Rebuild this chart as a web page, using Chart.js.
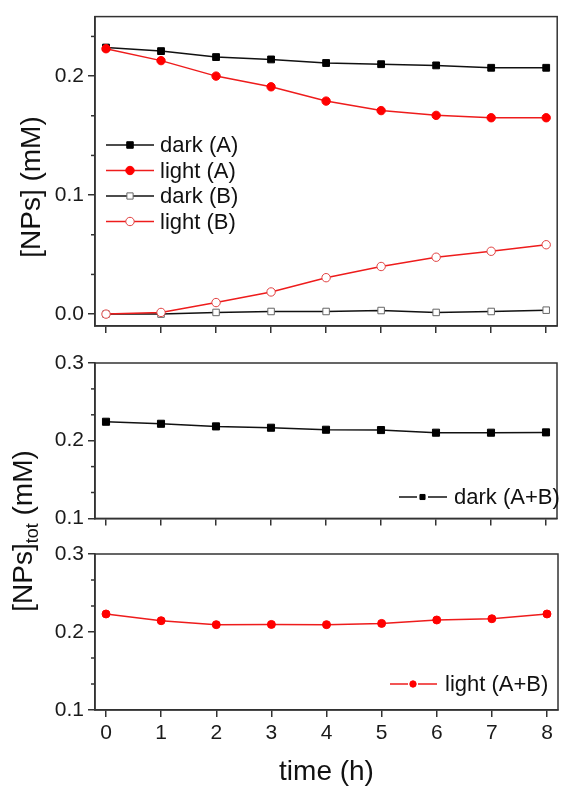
<!DOCTYPE html>
<html>
<head>
<meta charset="utf-8">
<script src="https://cdn.jsdelivr.net/npm/chart.js@4/dist/chart.umd.min.js"></script>
<style>
  html, body { margin: 0; background: #fff; }
  #wrap { position: relative; width: 563px; height: 786px; font-family: "Liberation Sans", Arial, sans-serif; }
  canvas { position: absolute; left: 0; }
  .ytitle { position: absolute; white-space: nowrap; font-size: 28px; line-height: 1; color: #111;
            transform: translate(-50%, -50%) rotate(-90deg); }
  .ytitle sub { font-size: 18px; line-height: 0; vertical-align: -0.35em; }
</style>
</head>
<body>
<div id="wrap">
  <canvas id="top" width="563" height="345" style="top:0"></canvas>
  <canvas id="mid" width="563" height="190" style="top:345px"></canvas>
  <canvas id="bot" width="563" height="251" style="top:535px"></canvas>
  <div class="ytitle" style="left:31px;top:187px">[NPs] (mM)</div>
  <div class="ytitle" style="left:23px;top:531px">[NPs]<sub>tot</sub> (mM)</div>
</div>
<script>
const FONT = '"Liberation Sans", Arial, sans-serif';

// time (h)
const hours = [0, 1, 2, 3, 4, 5, 6, 7, 8];
const xTicks = ['0', '1', '2', '3', '4', '5', '6', '7', '8'];

// top panel, [NPs] (mM)
const darkA  = [0.224, 0.221, 0.216, 0.214, 0.211, 0.210, 0.209, 0.207, 0.207];
const lightA = [0.223, 0.213, 0.200, 0.191, 0.179, 0.171, 0.167, 0.165, 0.165];
const darkB  = [0.000, 0.000, 0.0014, 0.0022, 0.0022, 0.003, 0.0014, 0.0022, 0.0033];
const lightB = [0.000, 0.0014, 0.0097, 0.0186, 0.0306, 0.040, 0.0478, 0.0528, 0.0583];

// lower panels, [NPs]tot (mM)
const darkTot  = [0.2244, 0.2218, 0.2184, 0.2167, 0.2141, 0.2137, 0.2103, 0.2103, 0.2107];
const lightTot = [0.2231, 0.2145, 0.2094, 0.2097, 0.2094, 0.2110, 0.2154, 0.2170, 0.2231];

const BLACK = '#111';
const RED = '#ee1c1c';

function points(values) {
  return values.map((v, i) => ({ x: hours[i], y: v }));
}

// where the small in-plot legends sit, per canvas
const legendLayout = {
  top: { font: 22, items: [
    { ds: 0, y: 145,   segs: [[106, 154]], mx: 130, r: 4.6, tx: 160 },
    { ds: 1, y: 170.5, segs: [[106, 154]], mx: 130, r: 4.2, tx: 160 },
    { ds: 2, y: 196,   segs: [[106, 154]], mx: 130, r: 4.4, tx: 160 },
    { ds: 3, y: 221.5, segs: [[106, 154]], mx: 130, r: 4.2, tx: 160 }
  ]},
  mid: { font: 22, items: [
    { ds: 0, y: 152, segs: [[399, 417], [428, 447]], mx: 422.5, r: 3.6, tx: 454 }
  ]},
  bot: { font: 22, items: [
    { ds: 0, y: 149, segs: [[390, 408], [418, 437]], mx: 413, r: 3.2, tx: 445 }
  ]}
};

function drawMarker(ctx, style, x, y, r, fill, stroke, lw) {
  ctx.beginPath();
  if (style === 'rect') {
    const s = r * Math.SQRT1_2;
    ctx.rect(x - s, y - s, 2 * s, 2 * s);
  } else {
    ctx.arc(x, y, r, 0, Math.PI * 2);
  }
  ctx.fillStyle = fill;
  ctx.fill();
  ctx.lineWidth = lw;
  ctx.strokeStyle = stroke;
  ctx.stroke();
}

const panelLegend = {
  id: 'panelLegend',
  afterDraw(chart) {
    const lay = legendLayout[chart.canvas.id];
    if (!lay) return;
    const ctx = chart.ctx;
    ctx.save();
    lay.items.forEach(it => {
      const ds = chart.data.datasets[it.ds];
      ctx.strokeStyle = ds.borderColor;
      ctx.lineWidth = 1.5;
      it.segs.forEach(s => {
        ctx.beginPath();
        ctx.moveTo(s[0], it.y);
        ctx.lineTo(s[1], it.y);
        ctx.stroke();
      });
      drawMarker(ctx, ds.pointStyle, it.mx, it.y, it.r,
        ds.pointBackgroundColor, ds.pointBorderColor, ds.pointBorderWidth || 1);
      ctx.fillStyle = '#111';
      ctx.font = lay.font + 'px ' + FONT;
      ctx.textBaseline = 'middle';
      ctx.fillText(ds.label, it.tx, it.y + 1);
    });
    ctx.restore();
  }
};

// box round the plot area plus minor ticks on y
const frame = {
  id: 'frame',
  afterDraw(chart) {
    const { ctx, chartArea: a } = chart;
    const y = chart.scales.y;
    ctx.save();
    ctx.strokeStyle = '#333';
    ctx.lineWidth = 1.5;
    ctx.strokeRect(a.left, a.top, a.right - a.left, a.bottom - a.top);
    const step = 0.1 / 3;
    for (let k = Math.ceil(y.min / step); k * step <= y.max + 1e-9; k++) {
      if (Math.abs(k % 3) === 0) continue;
      const py = y.getPixelForValue(k * step);
      ctx.beginPath();
      ctx.moveTo(a.left - 4, py);
      ctx.lineTo(a.left, py);
      ctx.stroke();
    }
    ctx.restore();
  }
};

function axisGrid() {
  return { drawOnChartArea: false, drawTicks: true, tickLength: 7, color: '#333', lineWidth: 1.5 };
}

function makeOptions(cfg) {
  return {
    responsive: false,
    animation: false,
    layout: { padding: { top: cfg.padTop, right: 1, left: 0, bottom: 0 } },
    plugins: { legend: { display: false }, tooltip: { enabled: false } },
    scales: {
      x: {
        type: 'linear', min: -0.2, max: 8.2,
        afterFit: s => { s.height = cfg.xHeight; },
        ticks: {
          stepSize: 1, includeBounds: false, display: cfg.showX,
          color: '#1a1a1a', padding: 4, font: { size: 21, family: FONT },
          callback: v => xTicks[hours.indexOf(v)]
        },
        grid: axisGrid(),
        border: { color: '#333', width: 1.5 },
        title: { display: cfg.showX, text: 'time (h)', color: '#111',
                 font: { size: 28, family: FONT, lineHeight: 1 }, padding: { top: 0, bottom: 0 } }
      },
      y: {
        min: cfg.ymin, max: cfg.ymax,
        afterFit: s => { s.width = 95; },
        ticks: {
          stepSize: 0.1, includeBounds: false, color: '#1a1a1a', padding: 4,
          font: { size: 21, family: FONT },
          callback: v => v.toFixed(1)
        },
        grid: axisGrid(),
        border: { color: '#333', width: 1.5 }
      }
    }
  };
}

new Chart(document.getElementById('top'), {
  type: 'line',
  data: {
    datasets: [
      { label: 'dark (A)', data: points(darkA), borderColor: BLACK, borderWidth: 1.5, order: 2,
        pointStyle: 'rect', pointRadius: 4.8, pointBackgroundColor: '#000', pointBorderColor: '#000', pointBorderWidth: 1 },
      { label: 'light (A)', data: points(lightA), borderColor: RED, borderWidth: 1.5, order: 0,
        pointStyle: 'circle', pointRadius: 4.2, pointBackgroundColor: '#ff0000', pointBorderColor: '#ff0000', pointBorderWidth: 1 },
      { label: 'dark (B)', data: points(darkB), borderColor: BLACK, borderWidth: 1.5, order: 3,
        pointStyle: 'rect', pointRadius: 4.6, pointBackgroundColor: '#fff', pointBorderColor: '#666', pointBorderWidth: 1 },
      { label: 'light (B)', data: points(lightB), borderColor: RED, borderWidth: 1.5, order: 1,
        pointStyle: 'circle', pointRadius: 4.2, pointBackgroundColor: '#fff', pointBorderColor: '#e04040', pointBorderWidth: 1 }
    ]
  },
  options: makeOptions({ padTop: 14, xHeight: 19, showX: false, ymin: -0.01, ymax: 0.25 }),
  plugins: [frame, panelLegend]
});

new Chart(document.getElementById('mid'), {
  type: 'line',
  data: {
    datasets: [
      { label: 'dark (A+B)', data: points(darkTot), borderColor: BLACK, borderWidth: 1.5,
        pointStyle: 'rect', pointRadius: 5, pointBackgroundColor: '#000', pointBorderColor: '#000', pointBorderWidth: 1 }
    ]
  },
  options: makeOptions({ padTop: 18, xHeight: 16, showX: false, ymin: 0.1, ymax: 0.3 }),
  plugins: [frame, panelLegend]
});

new Chart(document.getElementById('bot'), {
  type: 'line',
  data: {
    datasets: [
      { label: 'light (A+B)', data: points(lightTot), borderColor: RED, borderWidth: 1.5,
        pointStyle: 'circle', pointRadius: 4, pointBackgroundColor: '#ff0000', pointBorderColor: '#ff0000', pointBorderWidth: 1 }
    ]
  },
  options: makeOptions({ padTop: 19, xHeight: 76, showX: true, ymin: 0.1, ymax: 0.3 }),
  plugins: [frame, panelLegend]
});
</script>
</body>
</html>
